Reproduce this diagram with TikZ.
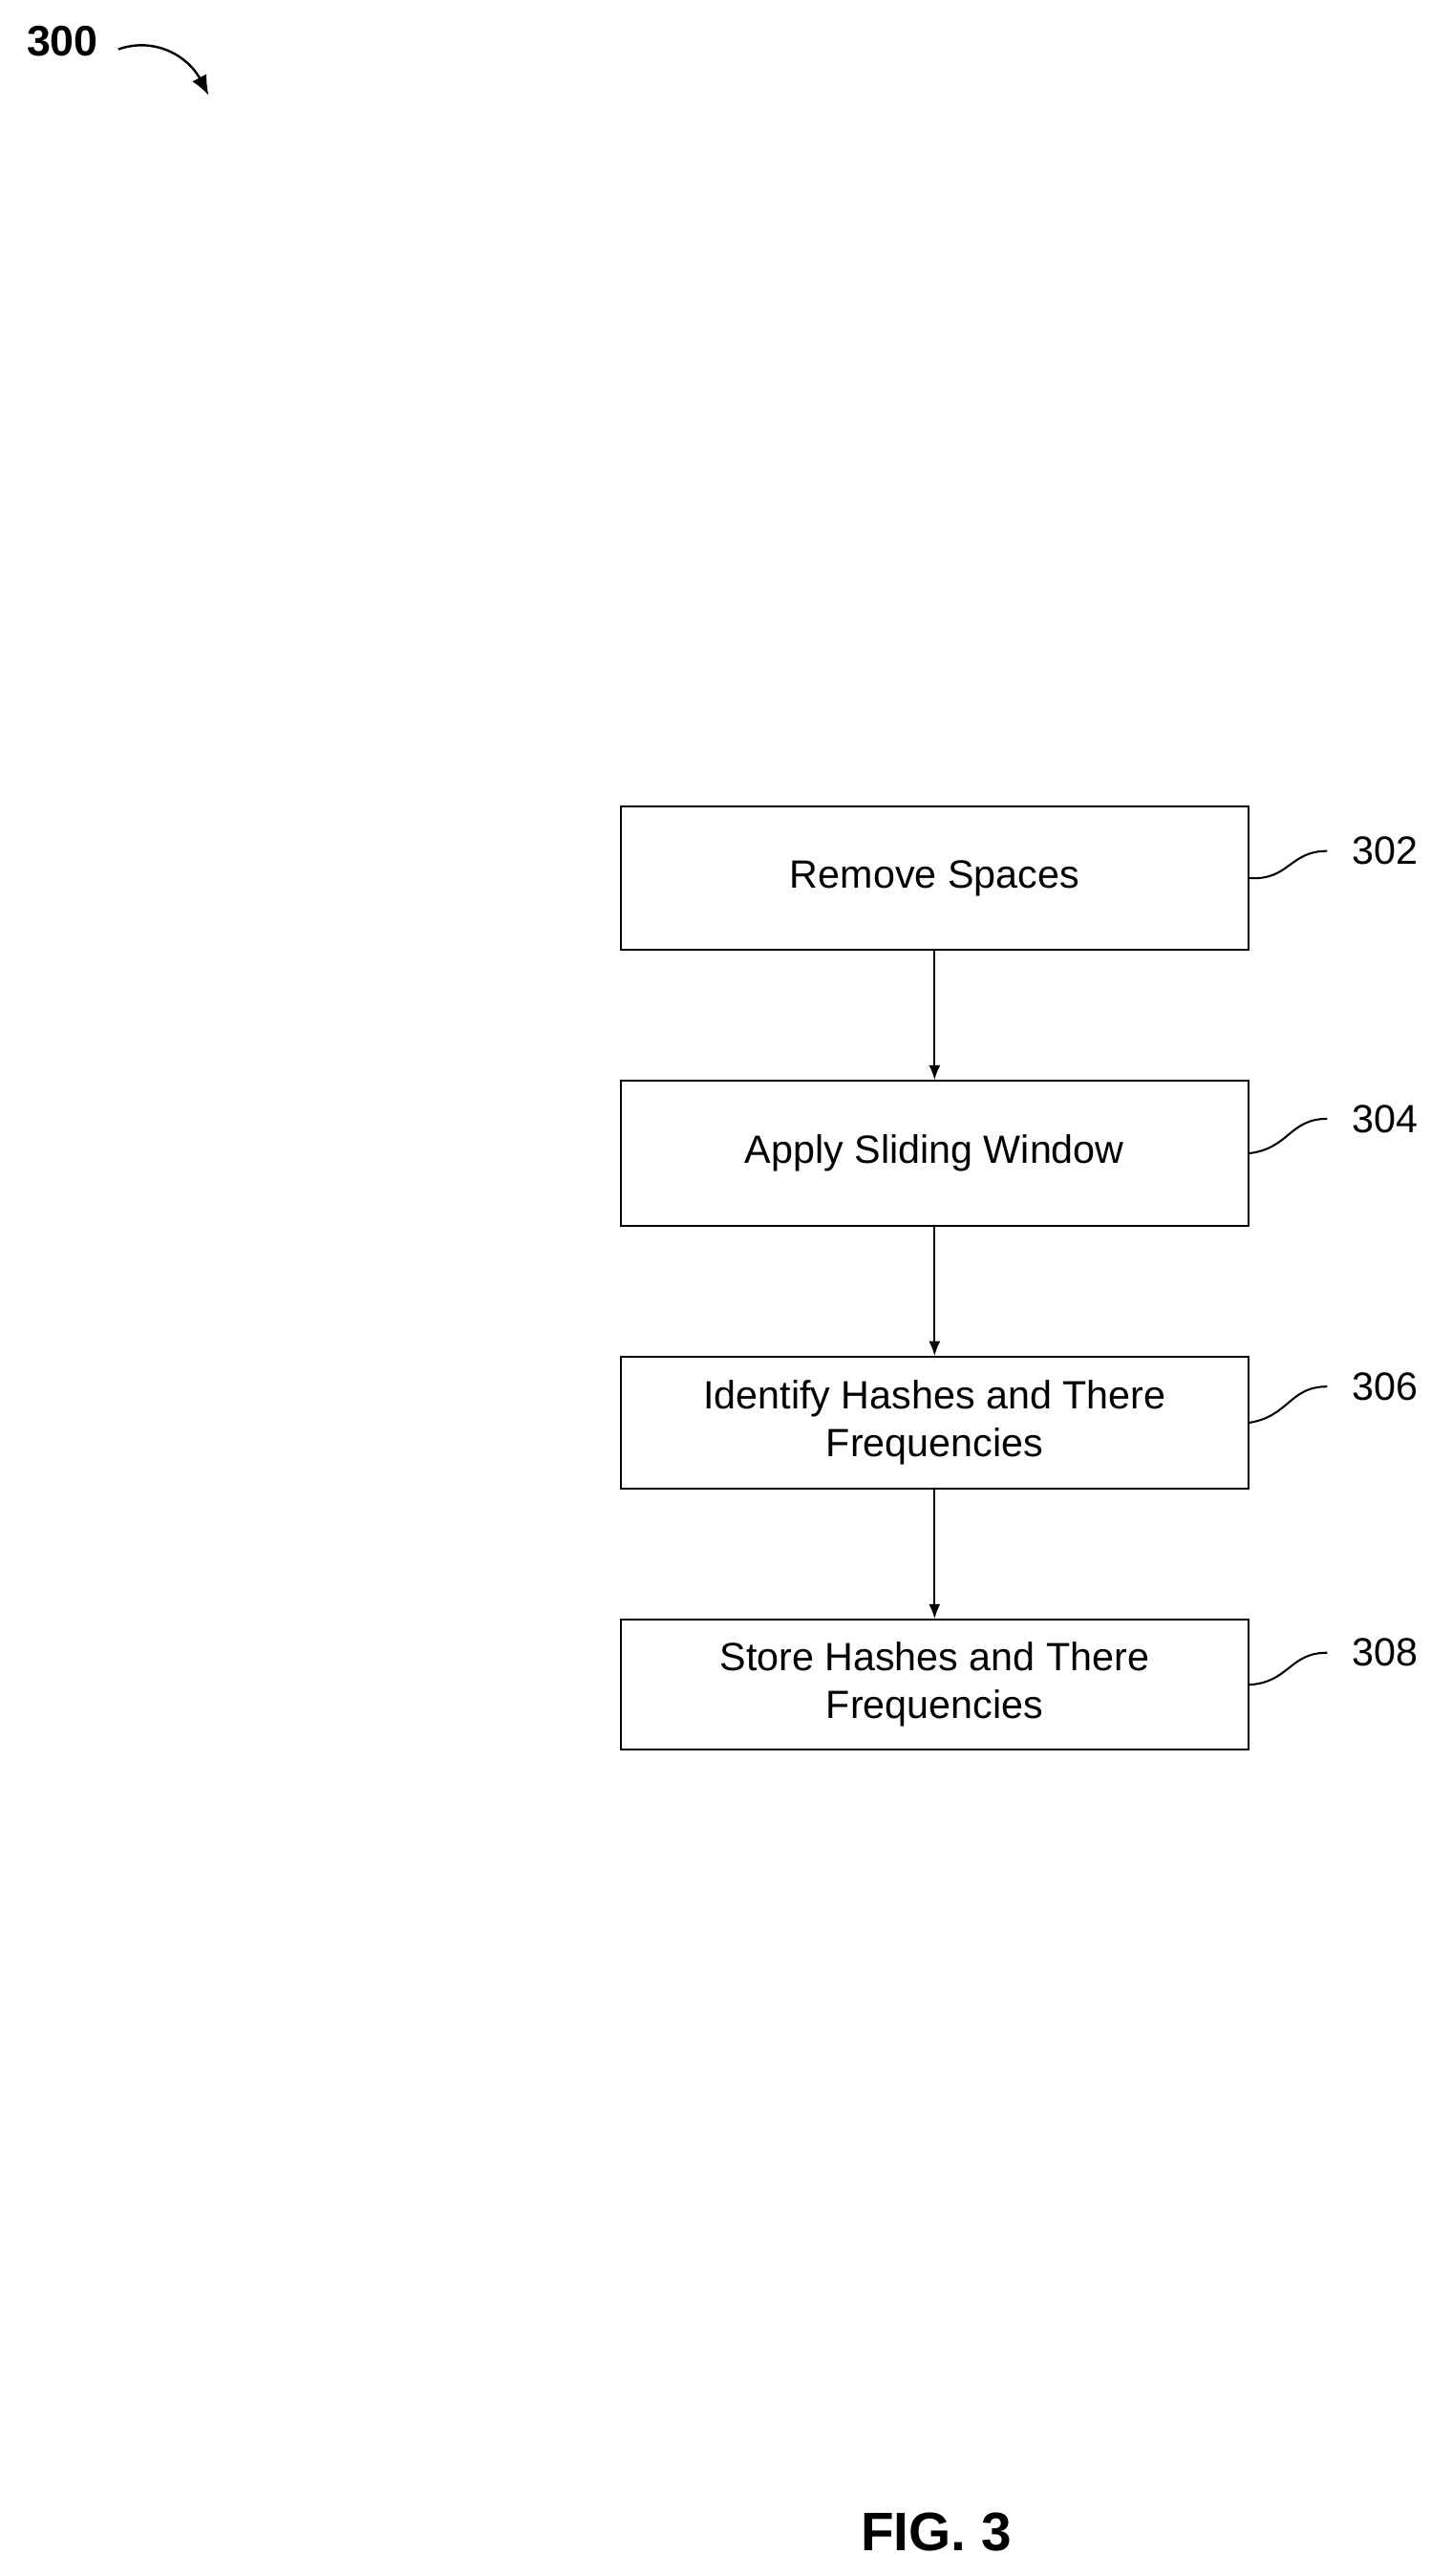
\documentclass[tikz,border=0pt]{standalone}
\usepackage{fontspec}
\setmainfont{Liberation Sans}
\begin{document}
\begin{tikzpicture}[x=1pt,y=-1pt,
  box/.style={draw,line width=1.2pt,minimum width=382pt,align=center,font=\fontsize{24}{29}\selectfont,inner sep=0pt},
  lbl/.style={font=\fontsize{24}{29}\selectfont,anchor=west},
  arr/.style={-{Latex[length=9pt,width=7pt]},line width=1.2pt}]
\usetikzlibrary{arrows.meta}
\useasboundingbox (0,0) rectangle (884,1568);
\node[box,minimum height=87pt] (b1) at (569,534.5) {Remove Spaces};
\node[box,minimum height=88pt] (b2) at (569,702) {Apply Sliding Window};
\node[box,minimum height=80pt] (b3) at (569,866) {Identify Hashes and There\\Frequencies};
\node[box,minimum height=79pt] (b4) at (569,1025.5) {Store Hashes and There\\Frequencies};
\draw[arr] (b1) -- (b2);
\draw[arr] (b2) -- (b3);
\draw[arr] (b3) -- (b4);
\foreach \b/\t/\y in {b1/302/518,b2/304/681,b3/306/844,b4/308/1006}{
  \coordinate (c\b) at (808,\y);
  \draw[line width=1.2pt] (\b.east) .. controls (785,\y+18) and (785,\y) .. (c\b);
  \node[lbl] (l\b) at (820,\y) {\t};
}
\node[font=\fontsize{26}{30}\selectfont\bfseries] (n300) at (38,25) {300};
\coordinate (a300) at (127,58);
\draw[-{Latex[length=12pt,width=10pt]},line width=1.4pt] (72,30) .. controls (95,22) and (115,35) .. (a300);
\node[font=\fontsize{33}{38}\selectfont\bfseries] (fig) at (570,1541) {FIG. 3};
\end{tikzpicture}
\end{document}
